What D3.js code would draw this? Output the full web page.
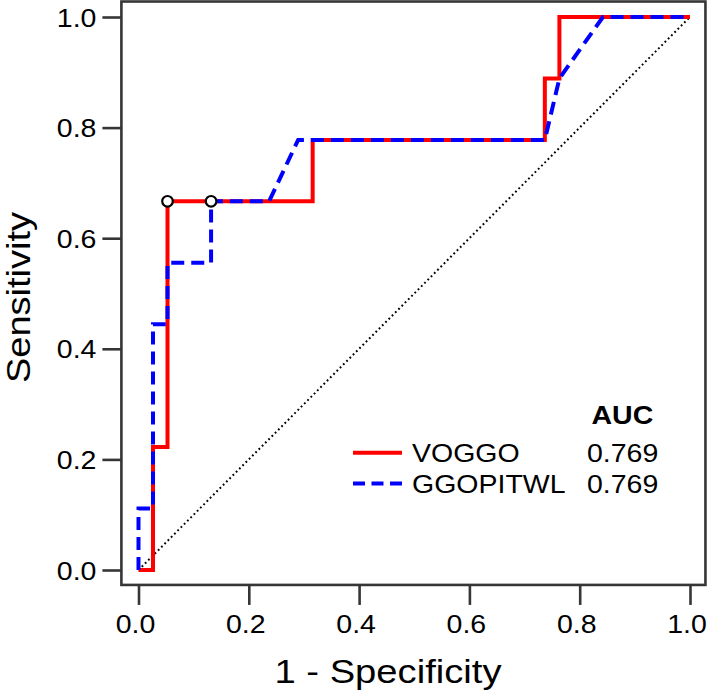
<!DOCTYPE html>
<html><head><meta charset="utf-8">
<script src="https://cdn.jsdelivr.net/npm/d3@7"></script>
<style>html,body{margin:0;padding:0;background:#fff;} svg{display:block;}</style>
</head><body>
<svg id="chart" width="707" height="692"></svg>
<script>
// ---------- data ----------
const xTickValues = [0, 0.2, 0.4, 0.6, 0.8, 1.0];
const yTickValues = [0, 0.2, 0.4, 0.6, 0.8, 1.0];
const seriesNames = ["VOGGO", "GGOPITWL"];
const aucValues = ["0.769", "0.769"];
const voggoFpr = [0, 0.0263, 0.0263, 0.0526, 0.0526, 0.3158, 0.3158, 0.7368, 0.7368, 0.7632, 0.7632, 1];
const voggoTpr = [0, 0, 0.2222, 0.2222, 0.6667, 0.6667, 0.7778, 0.7778, 0.8889, 0.8889, 1, 1];
const ggoFpr = [0, 0, 0.0263, 0.0263, 0.0526, 0.0526, 0.1316, 0.1316, 0.2368, 0.2895, 0.7368, 0.7632, 0.8421, 1];
const ggoTpr = [0, 0.1111, 0.1111, 0.4444, 0.4444, 0.5556, 0.5556, 0.6667, 0.6667, 0.7778, 0.7778, 0.8889, 1, 1];
const cutoffFpr = [0.0526, 0.1316];
const cutoffTpr = [0.6667, 0.6667];
const refFpr = [0, 1];
const refTpr = [0, 1];

// ---------- setup ----------
const W = 707, H = 692;
const x = d3.scaleLinear().domain([0, 1]).range([138.5, 690]);
const y = d3.scaleLinear().domain([0, 1]).range([570, 17]);
const svg = d3.select("#chart");
svg.append("rect").attr("width", W).attr("height", H).attr("fill", "#fff");
const FONT = "'Liberation Sans', Arial, Helvetica, sans-serif";
const SX = 1.14;
const frameColor = "#363636";

const fx0 = x(-0.031), fx1 = x(1.028), fy0 = y(1.028), fy1 = y(-0.027);

// frame
svg.append("rect")
  .attr("x", fx0).attr("y", fy0)
  .attr("width", fx1 - fx0).attr("height", fy1 - fy0)
  .attr("fill", "none").attr("stroke", frameColor).attr("stroke-width", 2.6);

// axes
const gx = svg.append("g")
  .attr("transform", `translate(0,${fy1})`)
  .call(d3.axisBottom(x).tickValues(xTickValues).tickSize(20).tickFormat(d3.format(".1f")));
gx.select(".domain").remove();
gx.selectAll(".tick line").attr("stroke", frameColor).attr("stroke-width", 2.6);
gx.selectAll(".tick text")
  .attr("x", null).attr("y", null).attr("dy", null)
  .attr("transform", `translate(-3.5,48) scale(${SX},1)`)
  .attr("text-anchor", "middle")
  .attr("font-size", 25).attr("font-family", FONT).attr("fill", "#000");

const gy = svg.append("g")
  .attr("transform", `translate(${fx0},0)`)
  .call(d3.axisLeft(y).tickValues(yTickValues).tickSize(19).tickFormat(d3.format(".1f")));
gy.select(".domain").remove();
gy.selectAll(".tick line").attr("stroke", frameColor).attr("stroke-width", 2.6);
gy.selectAll(".tick text")
  .attr("x", null).attr("y", null).attr("dy", null)
  .attr("transform", `translate(-25,9) scale(${SX},1)`)
  .attr("text-anchor", "end")
  .attr("font-size", 25).attr("font-family", FONT).attr("fill", "#000");

// axis titles
svg.append("text")
  .attr("transform", `translate(388,683) scale(${SX},1)`)
  .attr("text-anchor", "middle")
  .attr("font-size", 33.5).attr("font-family", FONT).attr("fill", "#000")
  .text("1 - Specificity");
svg.append("text")
  .attr("transform", `translate(30,297.5) rotate(-90) scale(${SX + 0.03},1)`)
  .attr("text-anchor", "middle")
  .attr("font-size", 32.5).attr("font-family", FONT).attr("fill", "#000")
  .text("Sensitivity");

// reference diagonal
const line = d3.line().x(d => x(d[0])).y(d => y(d[1]));
svg.append("path")
  .attr("d", line(d3.zip(refFpr, refTpr)))
  .attr("fill", "none").attr("stroke", "#000")
  .attr("stroke-width", 2).attr("stroke-dasharray", "1.8,2.8");

// curves
svg.append("path")
  .attr("d", line(d3.zip(voggoFpr, voggoTpr)))
  .attr("fill", "none").attr("stroke", "#ff0000")
  .attr("stroke-width", 4).attr("stroke-linejoin", "miter");
svg.append("path")
  .attr("d", line(d3.zip(ggoFpr, ggoTpr)))
  .attr("fill", "none").attr("stroke", "#0000ff")
  .attr("stroke-width", 4).attr("stroke-dasharray", "13,7").attr("stroke-linejoin", "miter");

// cutoff markers
svg.selectAll("circle.cut")
  .data(d3.zip(cutoffFpr, cutoffTpr))
  .join("circle").attr("class", "cut")
  .attr("cx", d => x(d[0])).attr("cy", d => y(d[1])).attr("r", 5.3)
  .attr("fill", "#fff").attr("stroke", "#000").attr("stroke-width", 2.2);

// legend
svg.append("text")
  .attr("transform", `translate(591.5,424) scale(${SX},1)`)
  .attr("font-size", 25).attr("font-weight", "bold").attr("font-family", FONT).attr("fill", "#000")
  .text("AUC");
const legendRows = [452.7, 483.5];
const legendColors = ["#ff0000", "#0000ff"];
const legendDash = [null, "12,6.5"];
seriesNames.forEach((name, i) => {
  const ly = legendRows[i];
  svg.append("line")
    .attr("x1", 353).attr("x2", 402).attr("y1", ly).attr("y2", ly)
    .attr("stroke", legendColors[i]).attr("stroke-width", 4)
    .attr("stroke-dasharray", legendDash[i]);
  svg.append("text")
    .attr("transform", `translate(412,${ly + 9}) scale(${SX},1)`)
    .attr("font-size", 25).attr("font-family", FONT).attr("fill", "#000")
    .text(name);
  svg.append("text")
    .attr("transform", `translate(587,${ly + 9}) scale(${SX},1)`)
    .attr("font-size", 25).attr("font-family", FONT).attr("fill", "#000")
    .text(aucValues[i]);
});
</script>
</body></html>
